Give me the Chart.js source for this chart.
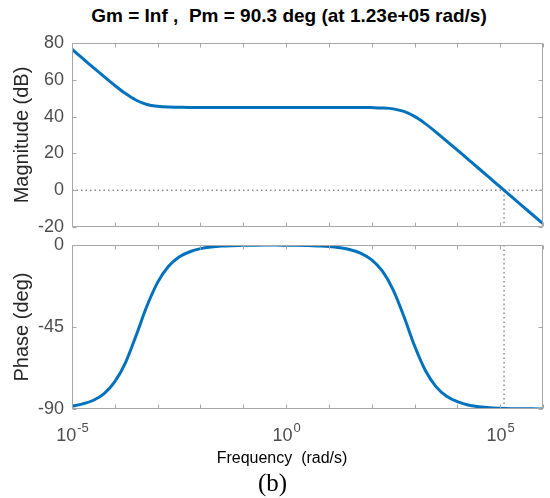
<!DOCTYPE html>
<html>
<head>
<meta charset="utf-8">
<script src="https://cdn.jsdelivr.net/npm/chart.js@4"></script>
<style>
    body { margin: 0; background: #fff; width: 550px; height: 498px; position: relative; overflow: hidden; font-family: "Liberation Sans", Arial, sans-serif; }
    .box { position: absolute; left: 0; width: 550px; }
    #magBox { top: 0; height: 244px; }
    #phaseBox { top: 230px; height: 268px; }
    .txt { position: absolute; white-space: pre; text-align: center; color: #000; }
    #title { left: 0; width: 578px; top: 5px; font-weight: bold; font-size: 19px; }
    #xlabel { left: 0; width: 564px; top: 449px; font-size: 16px; }
    #caption { left: 0; width: 545px; top: 469px; font-family: "Liberation Serif", "Times New Roman", serif; font-size: 25px; }
</style>
</head>
<body>
<div class="txt" id="title">Gm = Inf ,  Pm = 90.3 deg (at 1.23e+05 rad/s)</div>
<div class="box" id="magBox"><canvas id="magChart"></canvas></div>
<div class="box" id="phaseBox"><canvas id="phaseChart"></canvas></div>
<div class="txt" id="xlabel">Frequency  (rad/s)</div>
<div class="txt" id="caption">(b)</div>
<script>
// Frequency grid, log10(rad/s), quarter decades
const freqExp = [-5, -4.75, -4.5, -4.25, -4, -3.75, -3.5, -3.25, -3, -2.75, -2.5, -2.25,
    -2, -1.75, -1.5, -1.25, -1, -0.75, -0.5, -0.25, 0, 0.25, 0.5, 0.75,
    1, 1.25, 1.5, 1.75, 2, 2.25, 2.5, 2.75, 3, 3.25, 3.5, 3.75,
    4, 4.25, 4.5, 4.75, 5, 5.25, 5.5, 5.75, 6];

// Magnitude (dB)
const magnitudeDb = [76.6, 71.6, 66.6, 61.7, 56.9, 52.5, 48.9, 46.6, 45.6, 45.2, 45.1, 45.0,
    45.0, 45.0, 45.0, 45.0, 45.0, 45.0, 45.0, 45.0, 45.0, 45.0, 45.0, 45.0,
    45.0, 45.0, 45.0, 45.0, 44.9, 44.7, 44.2, 42.8, 40.1, 36.2, 31.6, 26.7,
    21.8, 16.8, 11.8, 6.8, 1.8, -3.2, -8.2, -13.2, -18.2];

// Phase (deg)
const phaseDeg = [-88.4, -87.2, -85.2, -81.5, -75.0, -64.5, -49.5, -33.5, -20.5, -11.8, -6.6, -3.7,
    -2.0, -1.1, -0.6, -0.35, -0.2, -0.1, -0.06, -0.05, -0.1, -0.15, -0.3, -0.5,
    -0.8, -1.5, -2.6, -4.6, -8.2, -14.4, -24.6, -39.1, -55.3, -68.7, -77.7, -83.0,
    -86.0, -87.8, -88.7, -89.3, -89.6, -89.8, -89.9, -89.9, -90.0];

// Gain crossover frequency (rad/s)
const crossoverFreq = 1.23e5;

// Axis ticks
const magTicks = [-20, 0, 20, 40, 60, 80];
const phaseTicks = [-90, -45, 0];
const decadeExps = [-5, -4, -3, -2, -1, 0, 1, 2, 3, 4, 5, 6];
const labelledExps = [-5, 0, 5];

const LINE_BLUE = '#0072bd';
const AXIS_GRAY = '#a6a6a6';
const TEXT_GRAY = '#4d4d4d';
const FONT = "'Liberation Sans', Arial, sans-serif";

Chart.defaults.font.family = FONT;
Chart.defaults.animation = false;

const freq = freqExp.map(e => Math.pow(10, e));
const fMin = freq[0];
const fMax = freq[freq.length - 1];

// Box with inside tick marks on all four sides
const boxTicks = {
    id: 'boxTicks',
    afterDatasetsDraw(chart) {
        const { ctx, chartArea: a, scales } = chart;
        const L = Math.round(a.left) + 0.5, R = Math.round(a.right) - 0.5;
        const T = Math.round(a.top) + 0.5, B = Math.round(a.bottom) - 0.5;
        ctx.save();
        ctx.strokeStyle = AXIS_GRAY;
        ctx.lineWidth = 1;
        ctx.beginPath();
        ctx.rect(L, T, R - L, B - T);
        decadeExps.forEach(e => {
            const x = Math.round(scales.x.getPixelForValue(Math.pow(10, e))) + 0.5;
            ctx.moveTo(x, B); ctx.lineTo(x, B - 4);
            ctx.moveTo(x, T); ctx.lineTo(x, T + 4);
        });
        scales.y.ticks.forEach(t => {
            const y = Math.round(scales.y.getPixelForValue(t.value)) + 0.5;
            ctx.moveTo(L, y); ctx.lineTo(L + 4, y);
            ctx.moveTo(R, y); ctx.lineTo(R - 4, y);
        });
        ctx.stroke();
        ctx.restore();
    }
};

// 10^n labels with real superscripts under the phase plot
const decadeLabels = {
    id: 'decadeLabels',
    afterDraw(chart) {
        const { ctx, chartArea: a, scales } = chart;
        ctx.save();
        ctx.fillStyle = TEXT_GRAY;
        ctx.textBaseline = 'alphabetic';
        ctx.textAlign = 'left';
        labelledExps.forEach(e => {
            const x = scales.x.getPixelForValue(Math.pow(10, e));
            ctx.font = '18px ' + FONT;
            const w1 = ctx.measureText('10').width;
            ctx.font = '13px ' + FONT;
            const sup = String(e);
            const w2 = ctx.measureText(sup).width;
            const x0 = x - (w1 + w2) / 2;
            const base = a.bottom + 32;
            ctx.font = '18px ' + FONT;
            ctx.fillText('10', x0, base);
            ctx.font = '13px ' + FONT;
            ctx.fillText(sup, x0 + w1 + 1, base - 9);
        });
        ctx.restore();
    }
};

function xScale() {
    return {
        type: 'logarithmic',
        display: false,
        min: fMin,
        max: fMax,
        afterBuildTicks: scale => {
            scale.ticks = decadeExps.map(e => ({ value: Math.pow(10, e) }));
        }
    };
}

function yScale(min, max, ticks, title) {
    return {
        min: min,
        max: max,
        grid: { display: false, tickLength: 8 },
        border: { display: false },
        afterBuildTicks: scale => {
            scale.ticks = ticks.map(v => ({ value: v }));
        },
        afterFit: scale => { scale.width = 72; },
        ticks: {
            padding: 0,
            color: TEXT_GRAY,
            font: { size: 18 }
        },
        title: {
            display: true,
            text: title,
            color: '#262626',
            font: { size: 20 },
            padding: { top: 10, bottom: 0 }
        }
    };
}

function curve(values) {
    return {
        data: freq.map((f, i) => ({ x: f, y: values[i] })),
        borderColor: LINE_BLUE,
        borderWidth: 3,
        pointRadius: 0,
        cubicInterpolationMode: 'monotone',
        fill: false
    };
}

function dotted(points) {
    return {
        data: points,
        borderColor: '#555',
        borderWidth: 1,
        borderDash: [1.5, 3],
        pointRadius: 0,
        fill: false
    };
}

const commonPlugins = {
    legend: { display: false },
    tooltip: { enabled: false }
};

// Magnitude plot
new Chart(document.getElementById('magChart').getContext('2d'), {
    type: 'line',
    data: {
        datasets: [
            curve(magnitudeDb),
            dotted([{ x: fMin, y: 0 }, { x: fMax, y: 0 }]),
            dotted([{ x: crossoverFreq, y: 0 }, { x: crossoverFreq, y: magTicks[0] }])
        ]
    },
    options: {
        responsive: true,
        maintainAspectRatio: false,
        layout: { padding: { top: 43, right: 7, bottom: 17, left: 0 } },
        plugins: commonPlugins,
        scales: {
            x: xScale(),
            y: yScale(-20, 80, magTicks, 'Magnitude (dB)')
        }
    },
    plugins: [boxTicks]
});

// Phase plot
new Chart(document.getElementById('phaseChart').getContext('2d'), {
    type: 'line',
    data: {
        datasets: [
            curve(phaseDeg),
            dotted([{ x: crossoverFreq, y: 0 }, { x: crossoverFreq, y: -90 }])
        ]
    },
    options: {
        responsive: true,
        maintainAspectRatio: false,
        layout: { padding: { top: 15, right: 7, bottom: 89, left: 0 } },
        plugins: commonPlugins,
        scales: {
            x: xScale(),
            y: yScale(-90, 0, phaseTicks, 'Phase (deg)')
        }
    },
    plugins: [boxTicks, decadeLabels]
});
</script>
</body>
</html>
